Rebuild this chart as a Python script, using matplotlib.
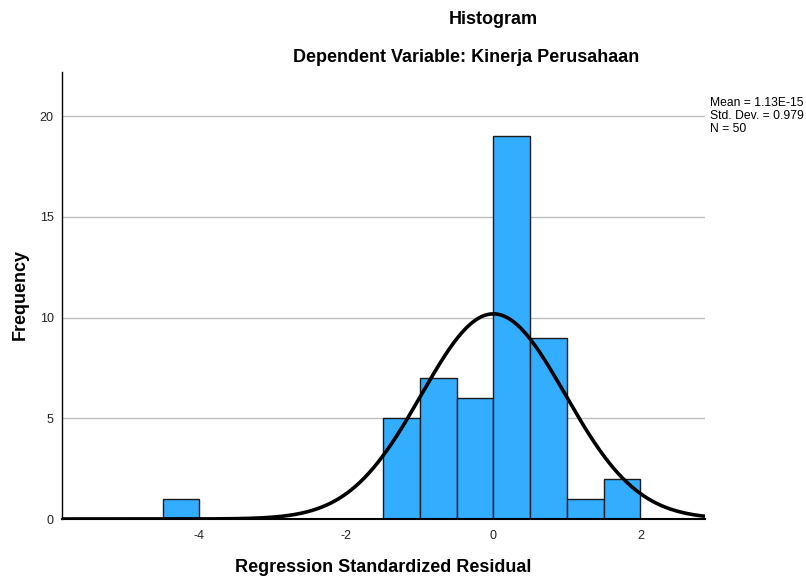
import numpy as np
import matplotlib
matplotlib.use("Agg")
import matplotlib.pyplot as plt

plt.rcParams['font.family'] = ['Liberation Sans', 'DejaVu Sans']

bin_left = [-4.5, -1.5, -1.0, -0.5, 0.0, 0.5, 1.0, 1.5]
counts = [1, 5, 7, 6, 19, 9, 1, 2]
bin_width = 0.5
mean = 1.13e-15
sd = 0.979
n = 50

fig = plt.figure(figsize=(8.06, 5.80), dpi=100)
ax = fig.add_axes([62/806, 1-519/580, (705-62)/806, (519-72)/580])

ax.set_xlim(-5.87, 2.88)
ax.set_ylim(0, 22.2)

ax.yaxis.grid(True, color='#bdbdbd', linewidth=1.0)
ax.set_axisbelow(True)

ax.bar(bin_left, counts, width=bin_width, align='edge', color='#33adff',
       edgecolor='#1a1a1a', linewidth=1.0, zorder=2)

x = np.linspace(-5.87, 2.88, 600)
y = n * bin_width * np.exp(-0.5 * ((x - mean) / sd) ** 2) / (sd * np.sqrt(2 * np.pi))
ax.plot(x, y, color='black', linewidth=2.6, zorder=3, solid_capstyle='butt')

ax.set_xticks([-4, -2, 0, 2])
ax.set_xticklabels(['-4', '-2', '0', '2'])
ax.set_yticks([0, 5, 10, 15, 20])
ax.tick_params(length=0, labelsize=9, colors='#222222')
ax.tick_params(axis='x', pad=8)
ax.tick_params(axis='y', pad=6)

for s in ['top', 'right']:
    ax.spines[s].set_visible(False)
ax.spines['left'].set_linewidth(1.0)
ax.spines['bottom'].set_linewidth(1.5)

fig.text(383/806, 1-568/580, 'Regression Standardized Residual', ha='center', va='center',
         fontsize=13, fontweight='bold')
fig.text(20/806, 1-295/580, 'Frequency', ha='center', va='center', rotation=90,
         fontsize=13, fontweight='bold')

fig.text(493/806, 1-20/580, 'Histogram', ha='center', va='center', fontsize=13, fontweight='bold')
fig.text(466/806, 1-57/580, 'Dependent Variable: Kinerja Perusahaan', ha='center', va='center',
         fontsize=13, fontweight='bold')

fig.text(710/806, 1-116/580, 'Mean = 1.13E-15\nStd. Dev. = 0.979\nN = 50', ha='left', va='center',
         fontsize=8.7, linespacing=1.12)

fig.savefig('out.png', dpi=100)
